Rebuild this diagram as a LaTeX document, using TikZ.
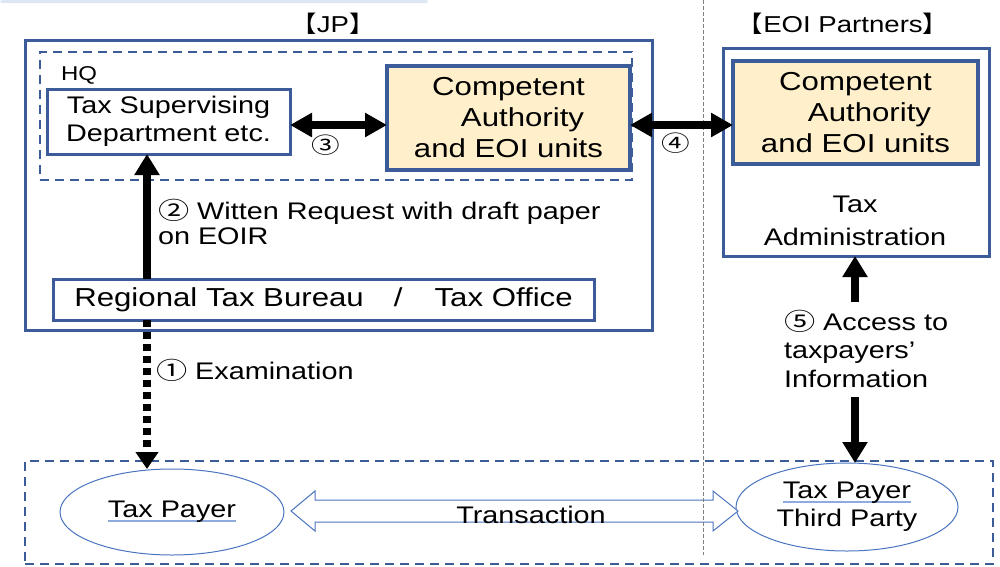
\documentclass[tikz,border=0pt]{standalone}
\usepackage{fontspec}
\setmainfont[FakeStretch=1.2]{Liberation Sans}
\newfontfamily\circfont[FakeStretch=1.3]{Noto Sans CJK JP}
\newfontfamily\cjkfont[FakeStretch=1.1]{Noto Sans CJK JP}
\usetikzlibrary{arrows.meta,calc,shapes.geometric}
\definecolor{bdr}{HTML}{3B5C99}
\definecolor{cafill}{HTML}{FFF0CB}
\definecolor{elc}{HTML}{4A74C0}
\definecolor{ulc}{HTML}{8FAADC}
\definecolor{topstrip}{HTML}{DDE7F3}
\newcommand\blueul[1]{\setbox0\hbox{#1}\rlap{\color{ulc}\rule[-4pt]{\wd0}{1.5pt}}\box0}
\begin{document}
\begin{tikzpicture}[x=1pt,y=-1pt,
  every node/.style={inner sep=0pt, outer sep=0pt},
  solidbox/.style={draw=bdr, line width=3pt},
  cabox/.style={draw=bdr, line width=4pt, fill=cafill, align=center, font=\fontsize{26}{31}\selectfont},
  dashbox/.style={draw=bdr, line width=2.5pt, dash pattern=on 9pt off 6pt},
  ellbox/.style={ellipse, draw=elc, line width=1pt, align=center, font=\fontsize{24}{28}\selectfont},
  txt/.style={font=\fontsize{24}{28}\selectfont},
  bigarrow/.style={line width=7.5pt, -{Triangle[length=21pt,width=24pt]}},
  dblarrow/.style={line width=7.5pt, {Triangle[length=22pt,width=23pt]}-{Triangle[length=22pt,width=23pt]}},
  dotarrow/.style={line width=7.5pt, dash pattern=on 7pt off 5pt, -{Triangle[length=17pt,width=22pt]}},
  blockarrow/.style={draw=elc, line width=1pt, fill=white, line join=miter},
  sepline/.style={draw=gray, line width=1pt, dash pattern=on 4pt off 2pt}
]
\useasboundingbox (0,0) rectangle (1000,566);
\fill[topstrip, rounded corners=1.5pt] (0,0) rectangle (428,3);

% group labels
\node[font=\fontsize{23}{23}\selectfont] (jplbl) at (333,24) {{\cjkfont 【}JP{\cjkfont 】}};
\node[font=\fontsize{23}{23}\selectfont] (eoilbl) at (843,24) {{\cjkfont 【}EOI Partners{\cjkfont 】}};

% frames
\node[solidbox, minimum width=627pt, minimum height=290pt] (jp) at (338.5,185) {};
\node[dashbox, minimum width=592pt, minimum height=128pt] (hqbox) at (336,116) {};
\node[anchor=base west, font=\fontsize{20}{20}\selectfont] (hq) at (61,80) {HQ};
\node[solidbox, minimum width=266pt, minimum height=208pt] (eoi) at (856,152) {};
\node[dashbox, minimum width=968pt, minimum height=103pt] (bottom) at (509,512.5) {};

% boxes
\node[solidbox, minimum width=243pt, minimum height=65pt, align=center, font=\fontsize{24}{28}\selectfont] (tsd) at (168.5,121.5) {Tax Supervising\\Department etc.};
\node[cabox, minimum width=243pt, minimum height=104pt] (caj) at (508.5,118) {Competent\\\hspace*{28pt}Authority\\and EOI units};
\node[cabox, minimum width=245pt, minimum height=103pt] (cae) at (855.5,112.5) {Competent\\\hspace*{28pt}Authority\\and EOI units};
\node[solidbox, minimum width=541pt, minimum height=41pt, font=\fontsize{26}{26}\selectfont] (rtb) at (323.5,299.5) {Regional Tax Bureau\hspace{30pt}/\hspace{32pt}Tax Office};
\node[txt, align=center, font=\fontsize{24}{33}\selectfont] (tadm) at (855,221) {Tax\\Administration};

% ellipses
\node[ellbox, minimum width=224pt, minimum height=86pt] (tp) at (172,512) {\blueul{Tax Payer}};
\node[ellbox, minimum width=222pt, minimum height=88pt] (tpt) at (847,507) {\blueul{Tax Payer}\\Third Party};

% transaction block arrow
\coordinate (tl) at (291,511);
\coordinate (tr) at (738,511);
\draw[blockarrow] (tl) -- ++(24,-20) -- ++(0,9) -- ($(tr)+(-25,-11)$) -- ++(0,-9) -- (tr) -- ++(-25,20) -- ++(0,-9) -- ($(tl)+(24,11)$) -- ++(0,9) -- cycle;
\node[txt] (trans) at (531,515) {Transaction};

% separator
\coordinate (gtop) at (703,0);
\coordinate (gbot) at (703,555);
\draw[sepline] (gtop) -- (gbot);

% connectors
\coordinate (y125) at (0,125);
\coordinate (x148) at (147,0);
\draw[dblarrow] (tsd.east |- y125) -- (caj.west |- y125);
\draw[dblarrow] (caj.east |- y125) -- (cae.west |- y125);
\draw[bigarrow] (rtb.north -| x148) -- (tsd.south -| x148);
\draw[dotarrow] (rtb.south -| x148) -- (tp.north -| x148);
\coordinate (a5top) at (855,302);
\coordinate (a5bot) at (855,397);
\draw[bigarrow] (a5top) -- (eoi.south -| a5top);
\draw[bigarrow] (a5bot) -- (tpt.north -| a5bot);

% connector labels
\node[font=\fontsize{22}{22}\circfont] (n3) at (326,145) {③};
\node[font=\fontsize{22}{22}\circfont] (n4) at (676,143) {④};
\node[txt, anchor=north west, align=left, font=\fontsize{24}{25.5}\selectfont] (l2) at (158,199) {{\circfont ②} Witten Request with draft paper\\on EOIR};
\node[txt, anchor=north west] (l1) at (156,359) {{\circfont ①} Examination};
\node[txt, anchor=north west, align=left, font=\fontsize{24}{28.5}\selectfont] (l5) at (784,310) {{\circfont ⑤} Access to\\taxpayers’\\Information};
\end{tikzpicture}
\end{document}
